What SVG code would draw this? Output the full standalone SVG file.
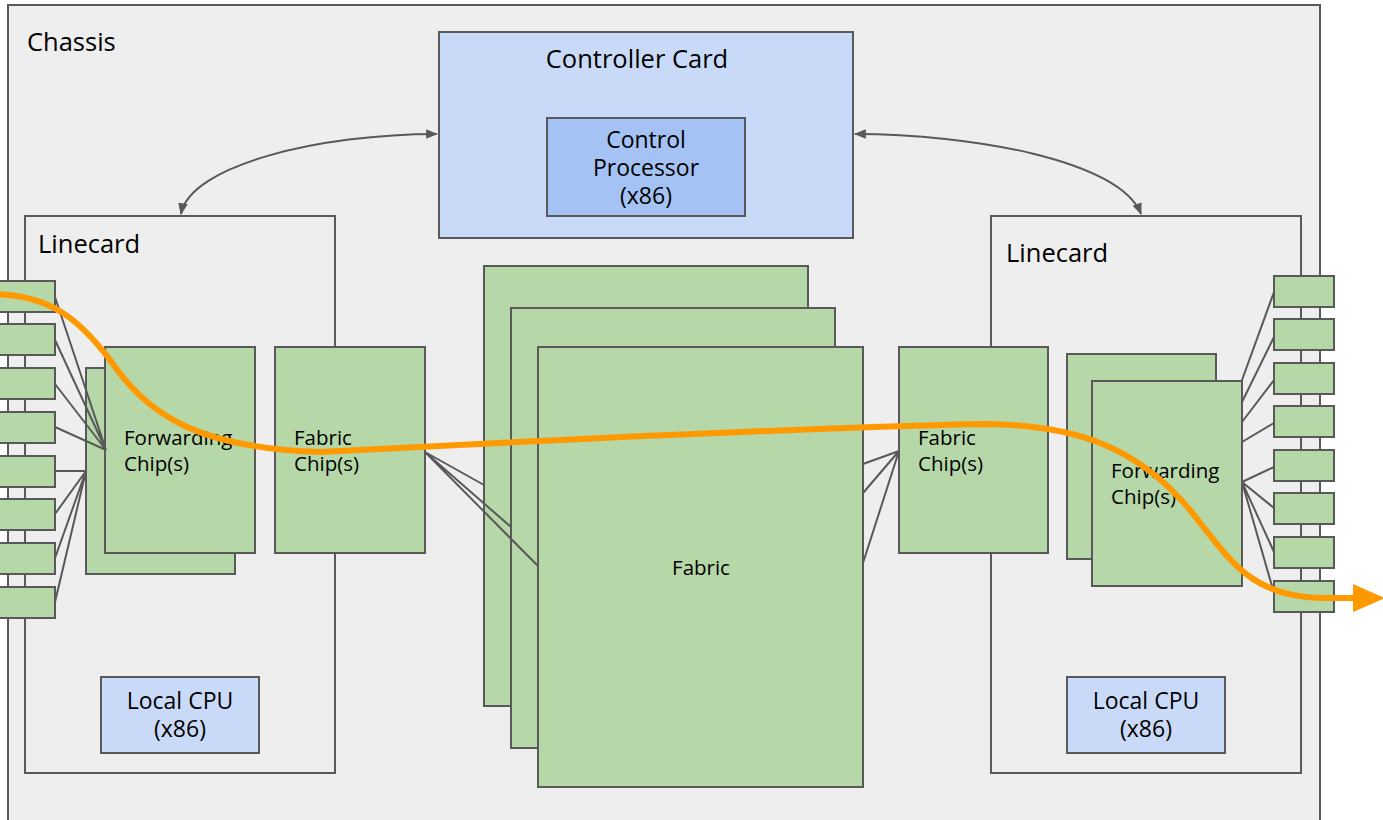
<svg xmlns="http://www.w3.org/2000/svg" width="1383" height="820" viewBox="0 0 1383 820">
  <defs>
    <style>
      .box { stroke: #595959; stroke-width: 2; }
      .chassis { fill: #eeeeee; }
      .card { fill: #eeeeee; }
      .green { fill: #b6d7a8; }
      .blue { fill: #c9daf8; }
      .cpu { fill: #a4c2f4; }
      .wire { stroke: #595959; stroke-width: 2; fill: none; }
      .ctl { stroke: #595959; stroke-width: 2; fill: none; marker-start: url(#ah); marker-end: url(#ah); }
      .flow { stroke: #ff9900; stroke-width: 6; fill: none; }
      text { font-family: "Open Sans", "Noto Sans", "Liberation Sans", sans-serif; fill: #000000; }
      .big { font-size: 25.5px; }
      .mid { font-size: 23px; }
      .small { font-size: 20.5px; }
    </style>
    <marker id="ah" viewBox="0 0 10 10" refX="9" refY="5" markerWidth="6" markerHeight="6" orient="auto-start-reverse" markerUnits="strokeWidth">
      <path d="M0,1 L10,5 L0,9 z" fill="#595959"/>
    </marker>
  </defs>

  <rect width="1383" height="820" fill="#ffffff"/>

  <!-- chassis frame -->
  <g id="chassis">
    <rect class="box chassis" x="8" y="5" width="1312" height="830"/>
    <text class="big" x="27" y="51">Chassis</text>
  </g>

  <!-- controller card with control processor -->
  <g id="controller-card">
    <rect class="box blue" x="439" y="32" width="414" height="206"/>
    <text class="big" x="637" y="68" text-anchor="middle">Controller Card</text>
  </g>
  <g id="control-processor">
    <rect class="box cpu" x="547" y="118" width="198" height="98"/>
    <text class="mid" text-anchor="middle"><tspan x="646" y="148">Control</tspan><tspan x="646" y="176">Processor</tspan><tspan x="646" y="204">(x86)</tspan></text>
  </g>

  <!-- linecards -->
  <g id="linecard-left">
    <rect class="box card" x="25" y="216" width="310" height="557"/>
    <text class="big" x="38" y="253">Linecard</text>
  </g>
  <g id="linecard-right">
    <rect class="box card" x="991" y="216" width="310" height="557"/>
    <text class="big" x="1006" y="262">Linecard</text>
  </g>

  <g id="local-cpu-left">
    <rect class="box blue" x="101" y="677" width="158" height="76"/>
    <text class="mid" text-anchor="middle"><tspan x="180" y="709">Local CPU</tspan><tspan x="180" y="737">(x86)</tspan></text>
  </g>
  <g id="local-cpu-right">
    <rect class="box blue" x="1067" y="677" width="158" height="76"/>
    <text class="mid" text-anchor="middle"><tspan x="1146" y="709">Local CPU</tspan><tspan x="1146" y="737">(x86)</tspan></text>
  </g>

  <!-- fabric stack -->
  <g id="fabric">
    <rect class="box green" x="484" y="266" width="324" height="440"/>
    <rect class="box green" x="511" y="308" width="324" height="440"/>
    <rect class="box green" x="538" y="347" width="325" height="440"/>
    <text class="small" x="701" y="575" text-anchor="middle">Fabric</text>
  </g>

  <!-- forwarding and fabric chips -->
  <g id="forwarding-left">
    <rect class="box green" x="86" y="368" width="149" height="206"/>
    <rect class="box green" x="105" y="347" width="150" height="206"/>
    <text class="small"><tspan x="124" y="445">Forwarding</tspan><tspan x="124" y="471">Chip(s)</tspan></text>
  </g>
  <g id="fabric-chip-left">
    <rect class="box green" x="275" y="347" width="150" height="206"/>
    <text class="small"><tspan x="294" y="445">Fabric</tspan><tspan x="294" y="471">Chip(s)</tspan></text>
  </g>
  <g id="fabric-chip-right">
    <rect class="box green" x="899" y="347" width="149" height="206"/>
    <text class="small"><tspan x="918" y="445">Fabric</tspan><tspan x="918" y="471">Chip(s)</tspan></text>
  </g>
  <g id="forwarding-right">
    <rect class="box green" x="1067" y="354" width="149" height="205"/>
    <rect class="box green" x="1092" y="381" width="150" height="205"/>
    <text class="small"><tspan x="1111" y="478">Forwarding</tspan><tspan x="1111" y="504">Chip(s)</tspan></text>
  </g>

  <!-- connectors -->
  <g id="connectors">
    <path class="ctl" d="M181,214 C190,165 320,134 437,134"/>
    <path class="ctl" d="M855,134 C970,134 1120,160 1141,214"/>

    <!-- left ports to forwarding chips -->
    <path class="wire" d="M55,297 L106,450 M55,340 L106,450 M55,384 L106,450 M55,427 L106,450"/>
    <path class="wire" d="M55,471 L86,471 M55,514 L86,471 M55,558 L86,471 M55,602 L86,471"/>
    <!-- left fabric chip to fabric -->
    <path class="wire" d="M425,452 L484,485 M425,452 L511,527 M425,452 L538,566"/>
    <!-- fabric to right fabric chip -->
    <path class="wire" d="M899,451 L863,464 M899,451 L863,493 M899,451 L863,563"/>
    <!-- right forwarding chips to ports -->
    <path class="wire" d="M1242,380 L1274,292 M1242,402 L1274,337 M1242,422 L1274,380 M1242,442 L1274,423 M1242,482 L1274,467 M1242,482 L1274,508 M1242,482 L1274,552 M1242,482 L1274,593"/>
  </g>

  <!-- front-panel ports -->
  <g id="ports-left">
    <rect class="box green" x="-5" y="281" width="60" height="31"/>
    <rect class="box green" x="-5" y="324" width="60" height="31"/>
    <rect class="box green" x="-5" y="368" width="60" height="31"/>
    <rect class="box green" x="-5" y="412" width="60" height="31"/>
    <rect class="box green" x="-5" y="456" width="60" height="31"/>
    <rect class="box green" x="-5" y="499" width="60" height="31"/>
    <rect class="box green" x="-5" y="543" width="60" height="31"/>
    <rect class="box green" x="-5" y="587" width="60" height="31"/>
  </g>
  <g id="ports-right">
    <rect class="box green" x="1274" y="276" width="60" height="31"/>
    <rect class="box green" x="1274" y="319" width="60" height="31"/>
    <rect class="box green" x="1274" y="363" width="60" height="31"/>
    <rect class="box green" x="1274" y="406" width="60" height="31"/>
    <rect class="box green" x="1274" y="450" width="60" height="31"/>
    <rect class="box green" x="1274" y="493" width="60" height="31"/>
    <rect class="box green" x="1274" y="537" width="60" height="31"/>
    <rect class="box green" x="1274" y="581" width="60" height="31"/>
  </g>

  <!-- packet path -->
  <g id="packet-path">
    <path class="flow" d="M-10,294 C50,294 80,320 110,360 C145,410 190,448 320,452 C550,440 800,428 980,424 C1080,424 1140,450 1190,510 C1230,560 1250,596 1320,598 L1356,598"/>
    <path d="M1353,584 L1385,598 L1353,612 z" fill="#ff9900"/>
  </g>
</svg>
